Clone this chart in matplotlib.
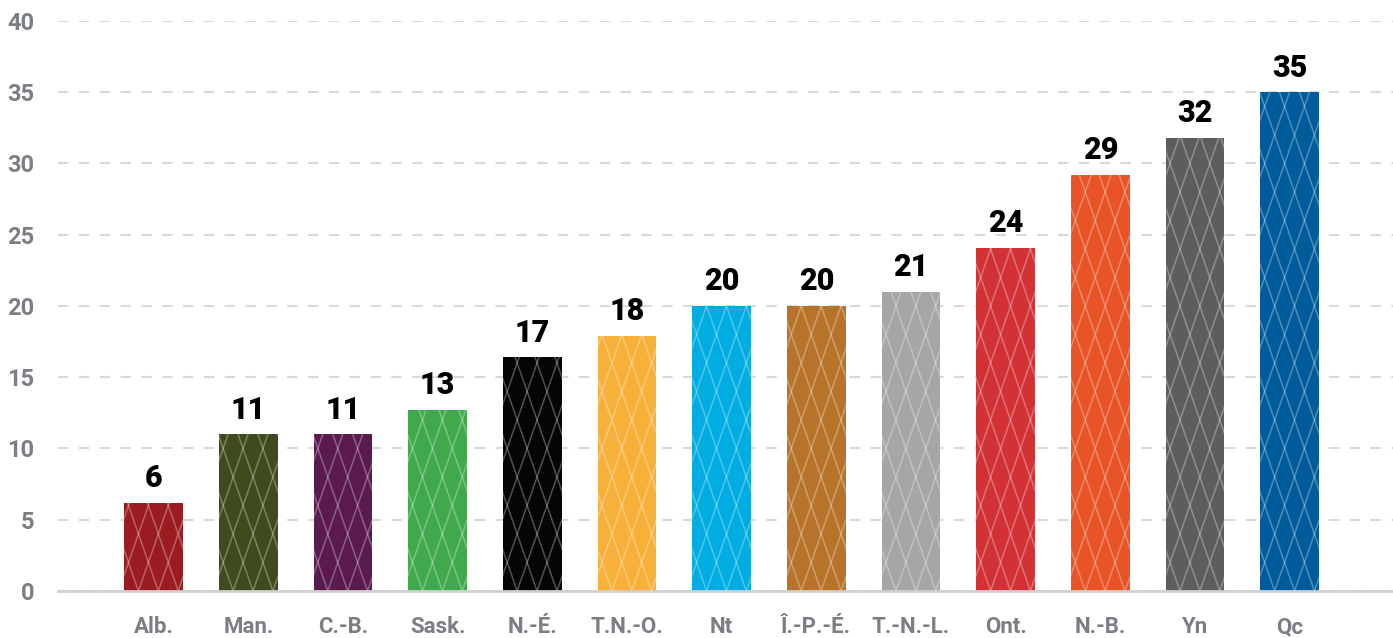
import matplotlib.pyplot as plt
import numpy as np

# values
provinces = ["Alb.", "Man.", "C.-B.", "Sask.", "N.-É.", "T.N.-O.", "Nt",
             "Î.-P.-É.", "T.-N.-L.", "Ont.", "N.-B.", "Yn", "Qc"]
values = [6.2, 11.0, 11.0, 12.7, 16.4, 17.9, 20.0, 20.0, 21.0, 24.1, 29.2, 31.8, 35.0]
value_labels = ["6", "11", "11", "13", "17", "18", "20", "20", "21", "24", "29", "32", "35"]
colors = ["#9b1c20", "#3f4b1e", "#5a1a4e", "#3fa94b", "#050505", "#f7b13a", "#00ade2",
          "#b8732a", "#a6a6a6", "#d23236", "#e85327", "#5f5c5c", "#005b9a"]
yticks = [0, 5, 10, 15, 20, 25, 30, 35, 40]

plt.rcParams['font.family'] = ['Roboto', 'DejaVu Sans']

fig = plt.figure(figsize=(13.93, 6.38), dpi=100)
ax = fig.add_axes([0.0416, 0.0737, 0.9584, 0.8934])

x = np.arange(len(provinces))
bar_w = 0.62
bars = ax.bar(x, values, width=bar_w, color=colors, zorder=3)

# diamond lattice drawn over each bar, clipped to the bar
dx = 0.21   # diamond width in data units
dy = 4.0    # diamond height in data units
slope = dy / dx
for b in bars:
    x0 = b.get_x()
    for c in np.arange(x0 - 3, x0 + 3, dx):
        for s in (1, -1):
            xs = np.array([c, c + s * 40 / slope])
            ys = np.array([0, 40])
            ln, = ax.plot(xs, ys, color="white", alpha=0.3, lw=1.1, zorder=4)
            ln.set_clip_path(b)

for xi, v, lab in zip(x, values, value_labels):
    ax.annotate(lab, (xi, v), xytext=(0, 7), textcoords="offset points",
                ha="center", va="bottom", fontsize=22, fontweight="black",
                color="black")

ax.set_xlim(-1.01, 13.09)
ax.set_ylim(0, 40)
ax.set_yticks(yticks)
ax.set_xticks(x)
ax.set_xticklabels(provinces)

ax.grid(axis="y", color="#d9d9d9", linestyle=(0, (5, 5)), lw=1.5, zorder=0)
for side in ["top", "right", "left"]:
    ax.spines[side].set_visible(False)
ax.spines["bottom"].set_color("#d0d0d0")
ax.spines["bottom"].set_linewidth(2)
ax.spines["bottom"].set_zorder(5)

ax.tick_params(axis="both", length=0, colors="#7b7f83", labelsize=16)
ax.tick_params(axis="y", pad=17, labelsize=17)
ax.tick_params(axis="x", pad=18)
for t in ax.get_xticklabels() + ax.get_yticklabels():
    t.set_fontweight("bold")

fig.savefig("out.png", dpi=100)
